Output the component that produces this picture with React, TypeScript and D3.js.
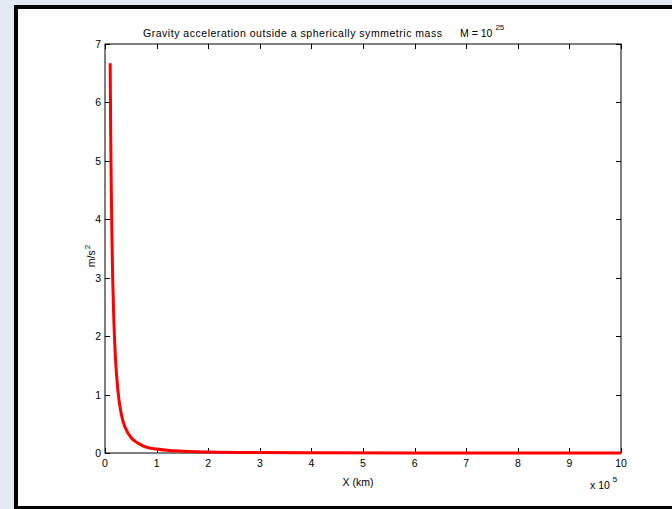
import React, { useEffect, useRef } from "react";
import * as d3 from "d3";

// distance (×10^5 km) and acceleration (m/s^2)
const distance = [0.1, 0.11, 0.12, 0.13, 0.14, 0.15, 0.17, 0.2, 0.25, 0.3, 0.35, 0.4, 0.5, 0.6, 0.7, 0.8, 1.0, 1.2, 1.5, 2, 3, 4, 6, 8, 10];
const accel = [6.67, 5.51, 4.63, 3.95, 3.4, 2.96, 2.31, 1.67, 1.07, 0.74, 0.54, 0.42, 0.27, 0.19, 0.14, 0.1, 0.067, 0.046, 0.03, 0.017, 0.007, 0.004, 0.002, 0.001, 0.0007];
const xTicks = [0, 1, 2, 3, 4, 5, 6, 7, 8, 9, 10];
const yTicks = [0, 1, 2, 3, 4, 5, 6, 7];

const W = 672;
const H = 509;
const FONT = "'Liberation Sans', Arial, sans-serif";

export default function App() {
  const ref = useRef<SVGSVGElement>(null);

  useEffect(() => {
    const svg = d3.select(ref.current);
    svg.selectAll("*").remove();

    // frame
    svg.append("rect").attr("width", W).attr("height", H).attr("fill", "#e3e9f2");
    svg.append("rect").attr("x", 14).attr("y", 5).attr("width", W).attr("height", H).attr("fill", "#000");
    svg.append("rect").attr("x", 18).attr("y", 9).attr("width", W).attr("height", 497).attr("fill", "#fff");

    const x = d3.scaleLinear().domain([0, 10]).range([105, 621]);
    const y = d3.scaleLinear().domain([0, 7]).range([453, 44]);

    const g = svg.append("g");

    // plot box
    g.append("rect")
      .attr("x", x(0)).attr("y", y(7))
      .attr("width", x(10) - x(0)).attr("height", y(0) - y(7))
      .attr("fill", "#fff").attr("stroke", "#000").attr("stroke-width", 1);

    // ticks, inward on all four sides
    const tl = 5;
    xTicks.forEach((t) => {
      const px = Math.round(x(t)) + 0.5;
      g.append("line").attr("x1", px).attr("x2", px).attr("y1", y(0)).attr("y2", y(0) - tl).attr("stroke", "#000");
      g.append("line").attr("x1", px).attr("x2", px).attr("y1", y(7)).attr("y2", y(7) + tl).attr("stroke", "#000");
      g.append("text").attr("x", x(t)).attr("y", y(0) + 14).attr("text-anchor", "middle")
        .attr("font-family", FONT).attr("font-size", 10.5).text(String(t));
    });
    yTicks.forEach((t) => {
      const py = Math.round(y(t)) + 0.5;
      g.append("line").attr("x1", x(0)).attr("x2", x(0) + tl).attr("y1", py).attr("y2", py).attr("stroke", "#000");
      g.append("line").attr("x1", x(10)).attr("x2", x(10) - tl).attr("y1", py).attr("y2", py).attr("stroke", "#000");
      g.append("text").attr("x", x(0) - 4).attr("y", y(t) + 4).attr("text-anchor", "end")
        .attr("font-family", FONT).attr("font-size", 10.5).text(String(t));
    });

    // curve
    const line = d3.line<number>()
      .x((_, i) => x(distance[i]))
      .y((d) => y(d))
      .curve(d3.curveMonotoneX);
    g.append("path").datum(accel).attr("d", line).attr("fill", "none")
      .attr("stroke", "#ff0000").attr("stroke-width", 3);

    // title
    g.append("text").attr("x", 143).attr("y", 37)
      .attr("font-family", FONT).attr("font-size", 10.5)
      .attr("textLength", 299).attr("lengthAdjust", "spacing")
      .text("Gravity acceleration outside a spherically symmetric mass");
    const m = g.append("text").attr("x", 460).attr("y", 37)
      .attr("font-family", FONT).attr("font-size", 10.5);
    m.append("tspan").text("M = 10");
    m.append("tspan").attr("dx", 3).attr("dy", -7).attr("font-size", 8).text("25");

    // x label
    g.append("text").attr("x", 358).attr("y", 486).attr("text-anchor", "middle")
      .attr("font-family", FONT).attr("font-size", 10.5).text("X (km)");
    const mult = g.append("text").attr("x", 590).attr("y", 489)
      .attr("font-family", FONT).attr("font-size", 10.5);
    mult.append("tspan").text("x 10");
    mult.append("tspan").attr("dx", 3).attr("dy", -7).attr("font-size", 8).text("5");

    // y label
    const yl = g.append("text").attr("transform", "translate(95,256) rotate(-90)")
      .attr("text-anchor", "middle").attr("font-family", FONT).attr("font-size", 10.5);
    yl.append("tspan").text("m/s");
    yl.append("tspan").attr("dx", 1).attr("dy", -5).attr("font-size", 8).text("2");
  }, []);

  return (
    <svg ref={ref} width={W} height={H}
      style={{ position: "absolute", left: 0, top: 0, display: "block" }} />
  );
}
